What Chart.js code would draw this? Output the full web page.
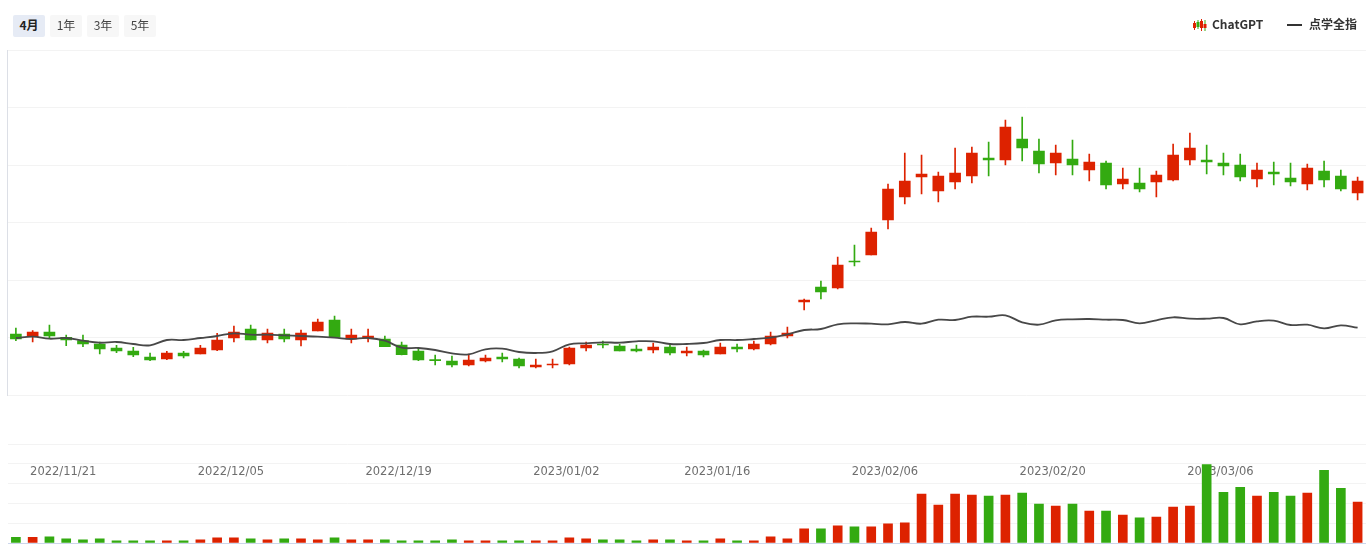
<!DOCTYPE html>
<html><head><meta charset="utf-8">
<script src="https://cdn.jsdelivr.net/npm/chart.js@4"></script>
<style>
html,body{margin:0;padding:0;background:#fff;width:1369px;height:548px;overflow:hidden;font-family:"Noto Sans CJK SC","Noto Sans",sans-serif}
#wrap{position:relative;width:1369px;height:548px}
canvas{position:absolute;left:0;top:0}
.btn{position:absolute;top:15px;width:32px;height:22px;line-height:20px;text-align:center;font-size:12px;color:#444;background:#f7f7f7;border-radius:2px}
.btn.on{background:#e6ebf5;color:#222;font-weight:700}
.lg{position:absolute;top:15px;line-height:18px;font-size:12px;font-weight:700;color:#333;white-space:nowrap}
.dash{position:absolute;left:1287px;top:24px;width:15px;height:2px;background:#333}
</style></head><body>
<div id="wrap">
<canvas id="c" width="1369" height="548"></canvas>
<div class="btn on" style="left:13px">4月</div>
<div class="btn" style="left:50px">1年</div>
<div class="btn" style="left:87px">3年</div>
<div class="btn" style="left:124px">5年</div>
<svg style="position:absolute;left:1193px;top:19px" width="15" height="13">
<g stroke-width="1"><path d="M1.5 2V11M8.5 0V12" stroke="#dd2200"/><path d="M5 1V10M12 1V12" stroke="#33aa11"/></g>
<rect x="0" y="4" width="3" height="5" fill="#dd2200"/><rect x="3.5" y="3" width="3" height="5" fill="#33aa11"/><rect x="7" y="2" width="3" height="7" fill="#dd2200"/><rect x="10.5" y="5" width="3" height="4" fill="#dd2200"/>
</svg>
<div class="lg" style="left:1212px">ChatGPT</div>
<div class="dash"></div>
<div class="lg" style="left:1309px">点学全指</div>
</div>
<script>
const seriesNames = ['ChatGPT','点学全指'];
const dates = ['2022/11/16','2022/11/17','2022/11/18','2022/11/21','2022/11/22','2022/11/23','2022/11/24','2022/11/25','2022/11/28','2022/11/29','2022/11/30','2022/12/01','2022/12/02','2022/12/05','2022/12/06','2022/12/07','2022/12/08','2022/12/09','2022/12/12','2022/12/13','2022/12/14','2022/12/15','2022/12/16','2022/12/19','2022/12/20','2022/12/21','2022/12/22','2022/12/23','2022/12/26','2022/12/27','2022/12/28','2022/12/29','2022/12/30','2023/01/02','2023/01/04','2023/01/05','2023/01/06','2023/01/09','2023/01/10','2023/01/11','2023/01/12','2023/01/13','2023/01/16','2023/01/17','2023/01/18','2023/01/19','2023/01/20','2023/01/30','2023/01/31','2023/02/01','2023/02/02','2023/02/03','2023/02/06','2023/02/07','2023/02/08','2023/02/09','2023/02/10','2023/02/13','2023/02/14','2023/02/15','2023/02/16','2023/02/17','2023/02/20','2023/02/21','2023/02/22','2023/02/23','2023/02/24','2023/02/27','2023/02/28','2023/03/01','2023/03/02','2023/03/03','2023/03/06','2023/03/07','2023/03/08','2023/03/09','2023/03/10','2023/03/13','2023/03/14','2023/03/15','2023/03/16'];
const tickLabels = ['2022/11/21','2022/12/05','2022/12/19','2023/01/02','2023/01/16','2023/02/06','2023/02/20','2023/03/06'];
const open = [61,58.3,63,57.7,54.3,51,47,44,38,36,42,41,45,57,66,55,61,55,64,75,56,56.7,56,50,44,35.3,34,30,34,38,36,28,30,31,47,51,49,46,45,48,42,44,41,48,46,51,59,93,108,107,134,140,175,198,218,204,213,219,237,235,256,244,232,236,225,232,211,212,213,215,235,235,232,230,216,223,217,211,224,219,202];
const close = [56,63,59,55,51,46,44,40,35,42,39,47,55,63,55,62,56,62,73,57.7,60,59,48.3,40.3,35,34.3,30,35,37,36,29,30,31,47,50,50,44,44,48,42,44,40,48,46,51,59,62,95,103,130,133,163,206,214,221,219,222,242,235,268,247,231,242,230,233,210,216,206,220,240,247,233,229,218,225,221,213,227,215,206,214];
const high = [67,64.3,70,60,60,53,49.7,47.7,42,43.7,43.7,49.7,61.7,69,70,66,66,65,76,79,66,66,59,53,47,40,39,41,40,42,37,36,36,48,53,54,51,50,52,51,48,45,52,51,54,63,68,96,114,138,150,167,211,242,240,223,247,248,253,275,278,256,250,255,241,234,227,227,224,251,262,250,242,241,232,233,232,231,234,225,218];
const low = [54.3,53,56.7,49.3,48.3,41,42.3,38.3,34.3,35.3,37,41,44.3,53,55,52,53,49,64,57.7,52,53,48.3,40,34.3,30,28,29,33,33,27,27,27,30,44,47,44,43,42,40,39,38,41,43,45,50,57,85,96,106,129,140,166,191,201,193,206,212,219,230,234,222,220,220,214,206,206,203,198,214,230,221,220,214,208,210,209,205,208,204,195];
const indexLine = [57,58.3,56.3,57,54.3,52.3,53,51,49.7,55,55,57,59,61.7,60.3,60.3,59.7,59,58.3,57.3,56,57,54.3,47.3,47,45,41.7,40.7,45.7,46.3,43,42,43.7,50.7,51.7,52.7,52.3,53.7,53.7,51,51,52,55,55,56,57.3,60.7,65,66,70.7,71.7,71.3,70.7,73,71.3,75.3,75,78.3,78.3,79.7,72.7,70.3,74.7,75.7,76,75.3,75,71.7,74.7,77.7,76.3,76.3,77,70.7,73.7,74.3,70,70.3,66.7,69.7,67.3];
const volume = [5.7,5.7,6.3,4.3,3.3,4.3,2.3,2.3,2.3,2.3,2.3,3.3,5.3,5.3,4.3,3.3,4.3,4.3,3.3,5.3,3.3,3.3,3.3,2.3,2.3,2.3,3.3,2.3,2.3,2.3,2.3,2.3,2.3,5.3,4.3,3.3,3.3,2.3,3.3,3.3,2.3,2.3,4.3,2.3,2.3,6.3,4.3,14.3,14.3,17.3,16.3,16.3,19.3,20.3,49.3,38.3,49.3,48.3,47.3,48.3,50.3,39.3,37.3,39.3,32.3,32.3,28.3,25.3,26.3,36.3,37.3,79.3,51.3,56.3,47.3,51.3,47.3,50.3,73.3,55.3,41.3];

const RED='#dd2200', GREEN='#33aa11', GRID='#f3f3f3';
const colors = open.map((o,i)=> close[i]>=o ? RED : GREEN);
const pair = (a,b)=>a.map((v,i)=>[v,b[i]]);

new Chart(document.getElementById('c'),{
  data:{labels:dates,datasets:[
    {type:'line',label:seriesNames[1],data:indexLine,yAxisID:'y',borderColor:'#484848',borderWidth:1.8,tension:0.4,pointRadius:0,order:0},
    {type:'bar',label:seriesNames[0],data:pair(open,close),yAxisID:'y',backgroundColor:colors,barThickness:11,grouped:false,order:1},
    {type:'bar',label:'wick',data:pair(low,high),yAxisID:'y',backgroundColor:colors,barThickness:1,grouped:false,order:2},
    {type:'bar',label:'volume',data:volume,yAxisID:'yVol',backgroundColor:colors,barThickness:9,grouped:false,order:3}
  ]},
  options:{
    responsive:false,animation:false,
    layout:{padding:{left:7.5,right:3,top:50,bottom:5}},
    plugins:{legend:{display:false},tooltip:{enabled:false}},
    scales:{
      x:{type:'category',position:{yVol:79.5},grid:{display:false,drawTicks:false},border:{display:false},
         ticks:{autoSkip:false,maxRotation:0,minRotation:0,padding:1,labelOffset:-3,color:'#6e6e6e',
                font:{family:'"DejaVu Sans"',size:11.5},
                callback(v){const l=this.getLabelForValue(v);return tickLabels.includes(l)?l:null;}}},
      yVol:{type:'linear',position:'left',stack:'p',stackWeight:99,min:0,max:100,
         ticks:{display:false,stepSize:20},grid:{drawTicks:false,color:c=>c.tick.value===0?'#ccd6eb':GRID},border:{display:false}},
      gap:{type:'linear',position:'left',stack:'p',stackWeight:49,min:0,max:1,display:false},
      y:{type:'linear',position:'left',stack:'p',stackWeight:345,min:0,max:345,
         ticks:{display:false,stepSize:57.5},grid:{color:GRID,drawTicks:false},border:{display:true,color:'#dcdfe6'}}
    }
  }
});
</script>
</body></html>
